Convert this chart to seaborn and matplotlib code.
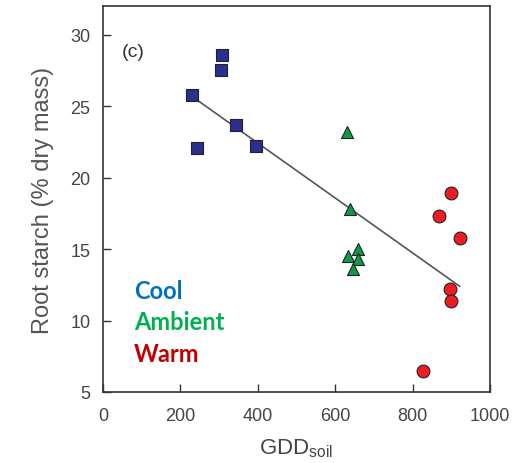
import numpy as np
import pandas as pd
import matplotlib
matplotlib.use("Agg")
import matplotlib.pyplot as plt
import seaborn as sns

cool_gdd = [230, 243, 307, 305, 344, 395]
cool_starch = [25.8, 22.1, 28.6, 27.5, 23.7, 22.2]
amb_gdd = [630, 638, 659, 633, 659, 646]
amb_starch = [23.2, 17.8, 15.0, 14.5, 14.3, 13.6]
warm_gdd = [899, 868, 922, 897, 899, 827]
warm_starch = [18.9, 17.3, 15.8, 12.2, 11.4, 6.5]
x_ticks = [0, 200, 400, 600, 800, 1000]
y_ticks = [5, 10, 15, 20, 25, 30]

df = pd.DataFrame({
    "gdd": cool_gdd + amb_gdd + warm_gdd,
    "starch": cool_starch + amb_starch + warm_starch,
    "group": ["Cool"] * 6 + ["Ambient"] * 6 + ["Warm"] * 6,
})

sns.set_style("ticks")
plt.rcParams["font.family"] = ["Liberation Sans", "DejaVu Sans"]

fig = plt.figure(figsize=(5.18, 4.64), dpi=100)
ax = fig.add_axes([103 / 518, 1 - 393 / 464, (490 - 103) / 518, (393 - 7) / 464])

sns.regplot(data=df, x="gdd", y="starch", ax=ax, scatter=False, ci=None,
            line_kws=dict(color="#555555", lw=1.2), truncate=True)

markers = {"Cool": "s", "Ambient": "^", "Warm": "o"}
colors = {"Cool": "#2B2F8F", "Ambient": "#0E9A48", "Warm": "#EE1C25"}
sizes = {"Cool": 65, "Ambient": 75, "Warm": 85}
for g in ["Cool", "Ambient", "Warm"]:
    sub = df[df.group == g]
    sns.scatterplot(data=sub, x="gdd", y="starch", ax=ax, marker=markers[g],
                    color=colors[g], s=sizes[g], edgecolor="#222222",
                    linewidth=0.8, zorder=3, legend=False)

ax.set_xlim(0, 1000)
ax.set_ylim(5, 32)
ax.set_xticks(x_ticks)
ax.set_yticks(y_ticks)
ax.tick_params(direction="in", length=6, width=1, colors="#333333",
               labelcolor="#444444", labelsize=13)
ax.tick_params(axis="x", pad=11)
ax.tick_params(axis="y", pad=9)
for s in ax.spines.values():
    s.set_color("#333333")
    s.set_linewidth(1.2)

ax.set_xlabel("GDD$_{\\mathregular{soil}}$", fontsize=16, color="#444444", labelpad=9)
ax.set_ylabel("Root starch (% dry mass)", fontsize=17, color="#555555", labelpad=12)

ax.text(0.048, 0.883, "(c)", transform=ax.transAxes, fontsize=14, color="#333333",
        va="center")
for txt, col, yy in [("Cool", "#0070C0", 292), ("Ambient", "#00B050", 322), ("Warm", "#C00000", 354)]:
    fig.text(134 / 518, 1 - yy / 464, txt, fontsize=17, fontweight="bold", color=col,
             family=["Lato", "DejaVu Sans"], va="center", ha="left")

fig.savefig("out.png", dpi=100, facecolor="white")
